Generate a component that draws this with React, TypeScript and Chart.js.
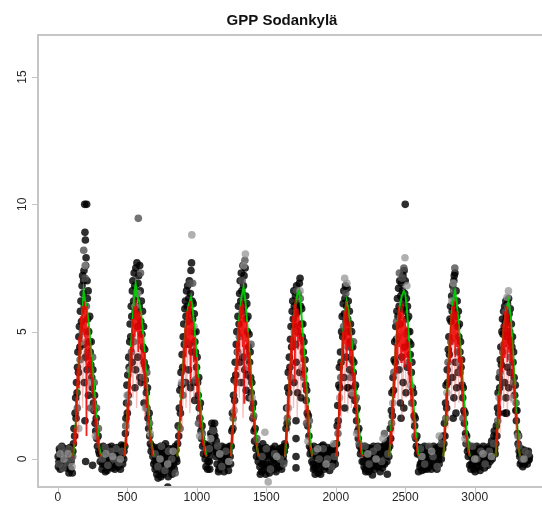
import React, { useEffect, useRef } from "react";
import { Chart, registerables } from "chart.js";

Chart.register(...registerables);

type Pt = [number, number];

const titleText = "GPP Sodankylä";
const xTickValues = [0, 500, 1000, 1500, 2000, 2500, 3000];
const yTickValues = [0, 5, 10, 15];
const xRange: Pt = [-143, 3457];
const yRange: Pt = [-1.1, 16.65];

// Observed daily GPP, dark markers
const obsDark: Pt[] = [
  // winter 0
  [2, 0.1], [8, -0.1], [14, 0.3], [20, 0.0], [26, -0.2], [32, 0.2], [40, 0.1], [46, -0.3], [52, 0.0], [60, 0.15], [68, -0.1], [76, 0.35], [84, 0.05], [92, -0.4], [98, 0.2], [104, -0.55], [108, 0.3], [80, -0.55],
  [4, -0.3], [11, 0.4], [17, -0.4], [23, 0.2], [29, 0.5], [35, -0.1], [43, 0.35], [49, -0.25], [55, 0.4], [63, -0.35], [71, 0.1], [79, -0.2], [87, 0.45], [95, -0.1],
  // season 1
  [112, 0.6], [116, 1.2], [120, 0.9], [124, 1.8], [128, 2.4], [131, 1.6], [134, 3.0], [138, 2.6], [141, 3.6], [144, 4.2], [148, 3.4], [151, 4.8], [155, 5.2], [158, 4.4], [162, 5.8], [166, 6.2], [170, 5.4], [174, 6.8], [178, 7.2],
  [182, 6.5], [185, 7.0], [188, 7.4], [190, 6.0], [193, 10.0], [195, 8.9], [198, 8.6], [200, 7.6], [203, 7.9], [207, 10.0], [210, 7.0], [212, 6.3], [215, 5.5], [218, 6.6], [222, 5.0], [226, 4.6], [229, 5.6],
  [233, 4.2], [237, 3.7], [240, 4.6], [244, 3.2], [248, 2.8], [252, 3.5], [256, 2.2], [260, 1.9], [264, 2.5], [268, 1.4], [272, 1.1], [276, 1.6], [280, 0.8], [285, 0.5], [290, 0.9], [295, 0.3], [300, 0.2], [305, -0.1],
  [190, 3.0], [200, 4.0], [210, 3.5], [220, 2.5], [195, 1.5], [185, 4.5], [200, -0.1], [250, -0.25],
  // winter 1
  [315, 0.2], [322, -0.2], [328, 0.4], [335, 0.1], [342, -0.5], [350, 0.3], [358, 0.0], [366, -0.1], [374, 0.35], [382, 0.15], [390, -0.35], [398, 0.2], [406, 0.05], [414, 0.3], [422, -0.2], [430, 0.1], [438, 0.4], [446, -0.05], [454, 0.25], [462, 0.1], [470, 0.5], [476, 0.3],
  [318, -0.4], [326, 0.5], [338, -0.2], [346, 0.3], [354, -0.45], [362, 0.45], [370, -0.3], [378, 0.0], [386, 0.5], [394, -0.2], [402, 0.4], [410, -0.4], [418, 0.15], [426, 0.45], [434, -0.3], [442, 0.2], [450, -0.4], [458, 0.55], [466, -0.2], [474, 0.0],
  // season 2
  [482, 0.5], [486, 1.0], [490, 1.6], [494, 2.2], [497, 2.9], [500, 1.8], [503, 3.3], [506, 2.5], [510, 4.0], [513, 3.6], [517, 4.6], [520, 5.3], [524, 4.8], [528, 6.0], [532, 5.6], [536, 6.6], [540, 7.0],
  [545, 6.2], [549, 7.3], [553, 6.8], [557, 5.8], [561, 7.5], [565, 6.4], [569, 7.7], [573, 5.2], [577, 6.9], [581, 7.2], [585, 6.0], [589, 7.6], [593, 6.6], [597, 5.4], [601, 6.2], [605, 4.9], [609, 5.8],
  [613, 4.4], [617, 5.2], [621, 3.8], [625, 4.3], [629, 3.1], [633, 3.6], [637, 2.6], [641, 2.0], [645, 2.8], [649, 1.6], [653, 1.2], [657, 1.8], [661, 0.9], [666, 0.6], [671, 0.3], [677, 0.5], [684, 0.1], [690, -0.2],
  [560, 3.5], [575, 4.0], [590, 3.2], [555, 2.8], [600, 3.0], [620, 2.2], [535, 3.8],
  // winter 2
  [695, 0.3], [700, -0.4], [706, 0.1], [712, -0.6], [718, 0.4], [724, 0.0], [730, -0.3], [736, 0.2], [742, -0.7], [748, 0.3], [754, -0.1], [760, 0.5], [766, -0.5], [772, 0.1], [778, -0.2], [785, 0.3], [791, -1.1], [797, 0.0], [804, -0.45], [810, 0.25], [818, -0.3], [826, 0.4], [834, -0.2], [842, 0.1], [850, 0.35], [856, -0.1],
  [698, -0.1], [703, 0.45], [709, -0.3], [715, 0.0], [721, -0.75], [727, 0.3], [733, -0.5], [739, 0.5], [745, -0.2], [751, 0.1], [757, -0.6], [763, 0.3], [769, -0.15], [775, 0.6], [781, -0.4], [788, 0.2], [794, -0.7], [800, 0.4], [807, -0.2], [814, 0.1], [822, -0.6], [830, 0.2], [838, -0.4], [846, 0.5], [853, 0.0],
  // season 3
  [862, 0.6], [866, 1.3], [870, 0.9], [874, 2.0], [878, 2.7], [882, 1.8], [886, 3.4], [890, 2.9], [894, 4.1], [898, 3.6], [902, 4.8], [906, 5.3], [910, 4.5], [914, 5.9], [918, 6.2], [922, 5.6], [926, 6.6],
  [930, 6.0], [934, 6.8], [938, 5.4], [942, 6.3], [946, 7.0], [950, 5.8], [954, 6.5], [958, 7.4], [962, 7.7], [966, 6.2], [970, 5.5], [974, 6.1], [978, 5.0], [982, 5.7], [986, 4.6],
  [990, 4.2], [994, 5.0], [998, 3.6], [1002, 4.0], [1006, 3.0], [1010, 2.5], [1014, 3.2], [1018, 2.0], [1022, 1.6], [1026, 2.2], [1030, 1.1], [1034, 0.8], [1038, 1.3], [1042, 0.5], [1048, 0.2], [1054, 0.6], [1060, 0.0], [1066, -0.3],
  [940, 3.5], [955, 2.8], [965, 4.2], [975, 3.0], [985, 2.3], [920, 3.0], [945, 4.5],
  // winter 3
  [1072, 0.2], [1078, -0.4], [1084, 0.3], [1090, -0.1], [1096, 0.6], [1100, 1.0], [1104, 0.4], [1108, 1.4], [1112, 0.8], [1116, 1.2], [1120, 0.3], [1124, 0.9], [1128, 1.4], [1132, 0.5], [1136, 0.1], [1140, 0.7], [1146, -0.2], [1152, 0.2], [1160, -0.4], [1168, 0.1], [1176, -0.1], [1184, 0.3], [1192, -0.3], [1200, 0.2], [1208, 0.0], [1216, 0.4], [1224, -0.2], [1232, 0.3], [1240, 0.1],
  [1075, 0.5], [1081, -0.1], [1087, 0.1], [1093, -0.4], [1106, 0.9], [1114, 0.4], [1122, 1.1], [1130, 0.9], [1144, 0.3], [1156, -0.5], [1164, 0.35], [1172, -0.3], [1180, 0.5], [1188, 0.0], [1196, -0.5], [1204, 0.45], [1212, -0.2], [1220, 0.1], [1228, -0.45], [1236, 0.5], [1243, -0.2],
  // season 4
  [1248, 0.5], [1252, 1.1], [1256, 1.8], [1260, 1.2], [1264, 2.5], [1268, 3.1], [1272, 2.3], [1276, 3.8], [1280, 3.3], [1284, 4.5], [1288, 5.0], [1292, 4.2], [1296, 5.6], [1300, 6.0], [1304, 5.3], [1308, 6.5],
  [1312, 7.0], [1316, 6.2], [1320, 7.3], [1324, 6.6], [1328, 5.8], [1332, 7.6], [1336, 6.8], [1340, 7.2], [1344, 6.0], [1348, 7.5], [1352, 6.4], [1356, 5.5], [1360, 6.1], [1364, 5.0],
  [1368, 5.6], [1372, 4.4], [1376, 4.9], [1380, 3.8], [1384, 4.2], [1388, 3.2], [1392, 2.6], [1396, 3.0], [1400, 2.0], [1404, 1.6], [1408, 2.2], [1412, 1.1], [1416, 0.7], [1420, 1.2], [1425, 0.4], [1430, 0.1], [1436, 0.5], [1442, -0.1],
  [1320, 3.0], [1330, 4.0], [1345, 3.5], [1355, 2.7], [1365, 3.3], [1310, 3.8], [1375, 2.4],
  // winter 4
  [1448, 0.3], [1454, -0.3], [1460, 0.2], [1466, -0.5], [1472, 0.4], [1478, 0.0], [1484, -0.2], [1490, 0.3], [1496, -0.6], [1502, 0.1], [1510, 0.35], [1518, -0.3], [1526, 0.2], [1534, -0.1], [1542, 0.4], [1550, 0.0], [1558, -0.4], [1566, 0.25], [1574, -0.1], [1582, 0.3], [1590, 0.05], [1598, -0.3], [1606, 0.2], [1614, 0.45], [1622, 0.1], [1630, 0.3],
  [1451, 0.1], [1457, -0.6], [1463, 0.4], [1469, -0.2], [1475, 0.6], [1481, -0.45], [1487, 0.1], [1493, -0.3], [1499, 0.45], [1506, -0.2], [1514, 0.15], [1522, -0.55], [1530, 0.35], [1538, -0.35], [1546, 0.1], [1554, -0.2], [1562, 0.5], [1570, -0.5], [1578, 0.0], [1586, -0.3], [1594, 0.4], [1602, -0.1], [1610, -0.4], [1618, 0.3], [1626, -0.1], [1633, 0.6],
  // season 5
  [1638, 0.5], [1642, 1.2], [1646, 2.0], [1650, 1.4], [1654, 2.8], [1658, 3.4], [1662, 2.6], [1666, 4.0], [1670, 3.6], [1674, 4.7], [1678, 5.2], [1682, 4.4], [1686, 5.8], [1690, 6.2],
  [1694, 5.5], [1698, 6.6], [1702, 6.0], [1706, 5.2], [1710, 6.4], [1714, 5.7], [1718, 6.8], [1722, 6.1], [1726, 5.0], [1730, 6.5], [1734, 5.8], [1738, 6.9], [1743, 7.1], [1747, 6.0], [1751, 5.3], [1755, 5.9], [1759, 4.8],
  [1763, 5.3], [1767, 4.2], [1771, 4.6], [1775, 3.5], [1779, 3.9], [1783, 2.9], [1787, 2.3], [1791, 2.7], [1795, 1.8], [1799, 1.3], [1803, 1.7], [1807, 0.9], [1811, 0.5], [1816, 0.2], [1822, 0.4], [1828, -0.1],
  [1700, 3.0], [1715, 3.8], [1725, 2.6], [1740, 3.4], [1750, 2.4], [1712, 4.5],
  [1714, 1.5], [1714, 0.8], [1714, 0.1], [1714, -0.35],
  // winter 5
  [1834, 0.2], [1840, -0.4], [1846, 0.3], [1852, -0.6], [1858, 0.1], [1864, 0.4], [1870, -0.2], [1876, 0.2], [1882, -0.5], [1888, 0.3], [1894, 0.0], [1900, 0.5], [1906, -0.3], [1912, 0.2], [1920, -0.1], [1928, 0.35], [1936, 0.1], [1944, -0.25], [1952, 0.3], [1960, 0.05], [1968, 0.4], [1976, -0.1], [1984, 0.3], [1992, 0.5], [1998, 0.2],
  [1837, -0.2], [1843, 0.5], [1849, -0.35], [1855, 0.3], [1861, -0.3], [1867, 0.1], [1873, -0.55], [1879, 0.45], [1885, -0.1], [1891, -0.6], [1897, 0.25], [1903, -0.2], [1909, 0.55], [1916, -0.4], [1924, 0.2], [1932, -0.3], [1940, 0.45], [1948, -0.1], [1956, -0.45], [1964, 0.3], [1972, -0.3], [1980, 0.5], [1988, 0.0], [1996, -0.2], [2002, 0.6],
  // season 6
  [2006, 0.6], [2010, 1.3], [2014, 2.1], [2018, 1.5], [2022, 2.9], [2026, 3.6], [2030, 2.8], [2034, 4.2], [2038, 3.8], [2042, 5.0], [2046, 5.6], [2050, 4.8], [2054, 6.1],
  [2058, 6.6], [2062, 5.7], [2066, 6.3], [2070, 6.8], [2074, 5.4], [2078, 6.0], [2082, 6.7], [2086, 5.5], [2090, 6.2], [2094, 5.0], [2098, 5.8], [2102, 4.6], [2106, 5.3], [2110, 4.4],
  [2114, 5.0], [2118, 3.9], [2122, 4.4], [2126, 3.4], [2130, 3.8], [2134, 2.8], [2138, 2.3], [2142, 2.9], [2146, 1.9], [2150, 1.5], [2154, 2.0], [2158, 1.1], [2162, 0.8], [2166, 1.2], [2172, 0.5], [2178, 0.2], [2184, 0.4], [2190, -0.1],
  [2060, 3.2], [2075, 4.0], [2085, 2.8], [2100, 3.5], [2115, 2.5], [2065, 2.0], [2090, 2.8],
  // winter 6
  [2198, 0.3], [2204, -0.3], [2210, 0.2], [2216, -0.5], [2222, 0.4], [2228, 0.0], [2234, -0.2], [2240, 0.3], [2246, -0.4], [2252, 0.1], [2260, 0.4], [2264, -0.63], [2268, -0.2], [2276, 0.2], [2284, -0.1], [2292, 0.3], [2300, 0.0], [2308, -0.3], [2316, 0.2], [2324, 0.45], [2332, 0.1], [2340, -0.2], [2348, 0.3], [2356, 0.6], [2364, 0.2], [2371, -0.6], [2378, 0.4],
  [2201, -0.1], [2207, 0.5], [2213, -0.4], [2219, 0.1], [2225, -0.3], [2231, 0.45], [2237, -0.5], [2243, 0.0], [2249, 0.4], [2256, -0.3], [2272, 0.5], [2280, -0.4], [2288, 0.1], [2296, -0.3], [2304, 0.5], [2312, -0.1], [2320, -0.5], [2328, 0.3], [2336, -0.35], [2344, 0.5], [2352, -0.2], [2360, 0.4], [2368, -0.1], [2375, 0.7], [2382, 0.1],
  // season 7
  [2388, 0.5], [2392, 1.2], [2396, 0.8], [2400, 1.9], [2404, 2.6], [2408, 1.7], [2412, 3.2], [2416, 2.7], [2420, 3.9], [2424, 4.6], [2428, 3.8], [2432, 5.2], [2436, 4.7], [2440, 5.8], [2444, 6.3],
  [2448, 5.6], [2452, 6.7], [2456, 6.0], [2460, 7.0], [2464, 5.3], [2468, 6.4], [2472, 6.9], [2476, 5.9], [2480, 6.6], [2484, 7.2], [2488, 6.2], [2492, 7.4], [2496, 6.5], [2500, 7.0], [2504, 5.8], [2508, 6.3], [2512, 5.5], [2516, 6.0], [2520, 5.0], [2524, 5.6], [2528, 4.6],
  [2532, 5.0], [2536, 4.1], [2540, 4.5], [2544, 3.4], [2548, 3.8], [2552, 2.8], [2556, 2.2], [2560, 2.6], [2564, 1.7], [2568, 1.3], [2572, 1.6], [2576, 0.8], [2580, 0.5], [2584, 0.9], [2588, 0.2], [2592, 0.4], [2596, -0.5],
  [2455, 3.5], [2465, 2.2], [2475, 4.0], [2485, 3.0], [2495, 4.4], [2505, 2.6], [2515, 3.6], [2470, 1.6], [2490, 2.0], [2500, 10.0],
  // winter 7
  [2600, 0.2], [2606, -0.3], [2612, 0.3], [2618, -0.1], [2624, 0.4], [2630, 0.0], [2636, -0.4], [2642, 0.2], [2648, -0.2], [2654, 0.35], [2660, 0.1], [2668, -0.3], [2676, 0.2], [2684, 0.0], [2692, 0.3], [2700, -0.2], [2708, 0.1], [2716, 0.4], [2724, -0.1], [2732, 0.2], [2740, 0.0], [2748, 0.5], [2756, 0.3], [2764, 0.8], [2770, 0.4],
  [2603, 0.45], [2609, -0.2], [2615, 0.1], [2621, -0.45], [2627, 0.3], [2633, -0.1], [2639, 0.5], [2645, -0.35], [2651, 0.0], [2657, -0.4], [2664, 0.45], [2672, -0.15], [2680, 0.35], [2688, -0.4], [2696, 0.1], [2704, 0.5], [2712, -0.3], [2720, 0.2], [2728, -0.4], [2736, 0.45], [2744, -0.2], [2752, 0.2], [2760, 0.0], [2767, 0.5], [2773, 0.9],
  // season 8
  [2778, 0.6], [2782, 1.4], [2786, 0.9], [2790, 2.2], [2794, 2.9], [2798, 2.0], [2802, 3.5], [2806, 3.0], [2810, 4.3], [2814, 4.8], [2818, 4.1], [2822, 5.5], [2826, 6.0],
  [2830, 5.4], [2834, 6.4], [2838, 5.8], [2842, 6.8], [2846, 6.1], [2850, 7.0], [2853, 7.2], [2858, 7.3], [2862, 5.9], [2866, 6.6], [2870, 5.6], [2874, 6.2], [2878, 5.2], [2882, 5.8], [2886, 4.8],
  [2890, 5.3], [2894, 4.2], [2898, 4.6], [2902, 3.6], [2906, 3.9], [2910, 2.9], [2914, 2.4], [2918, 2.8], [2922, 1.9], [2926, 1.4], [2930, 1.8], [2934, 1.0], [2938, 0.6], [2942, 0.9], [2948, 0.3], [2954, 0.1], [2960, 0.4], [2964, -0.25],
  [2840, 3.2], [2850, 2.4], [2860, 3.8], [2870, 2.8], [2880, 3.4], [2845, 1.6], [2865, 1.8],
  // winter 8
  [2970, 0.2], [2976, -0.2], [2982, 0.3], [2988, 0.0], [2994, -0.4], [3000, 0.2], [3006, 0.4], [3012, -0.1], [3018, 0.3], [3024, 0.05], [3030, -0.3], [3036, 0.2], [3042, 0.4], [3050, 0.0], [3058, 0.3], [3066, -0.2], [3074, 0.15], [3082, 0.35], [3090, 0.0], [3098, 0.3], [3106, 0.5], [3114, 0.2], [3122, 0.7], [3130, 0.3], [3138, 0.9], [3144, 0.4],
  [2967, 0.5], [2973, -0.4], [2979, 0.1], [2985, -0.2], [2991, 0.45], [2997, -0.1], [3003, -0.5], [3009, 0.1], [3015, 0.5], [3021, -0.3], [3027, 0.35], [3033, -0.1], [3039, -0.45], [3046, 0.25], [3054, -0.2], [3062, 0.5], [3070, -0.35], [3078, 0.0], [3086, 0.4], [3094, -0.25], [3102, 0.15], [3110, -0.1], [3118, 0.45], [3126, 0.0], [3134, 0.5], [3141, 1.1], [3147, 0.2],
  // season 9
  [3152, 0.6], [3156, 1.3], [3160, 0.9], [3164, 2.0], [3168, 2.6], [3172, 1.8], [3176, 3.2], [3180, 2.8], [3184, 3.9], [3188, 4.4], [3192, 3.7], [3196, 5.0], [3200, 5.5],
  [3204, 4.9], [3208, 5.8], [3212, 5.2], [3216, 6.0], [3220, 5.4], [3224, 6.2], [3228, 5.6], [3232, 4.8], [3236, 6.1], [3240, 5.5], [3244, 6.3], [3248, 5.7], [3252, 5.0], [3256, 5.9], [3260, 4.6], [3264, 5.3], [3268, 4.4],
  [3272, 4.8], [3276, 3.8], [3280, 4.2], [3284, 3.2], [3288, 2.5], [3292, 2.9], [3296, 1.9], [3300, 1.5], [3304, 1.9], [3308, 1.0], [3312, 0.6], [3316, 0.9], [3320, 0.3], [3324, 0.1],
  [3215, 3.0], [3225, 2.4], [3235, 3.6], [3245, 2.8], [3255, 3.4], [3229, 1.8], [3220, 1.8],
  // winter 9
  [3330, 0.2], [3336, -0.1], [3342, 0.3], [3350, 0.1], [3358, -0.2], [3366, 0.2], [3374, 0.0], [3382, 0.15], [3388, -0.05], [3394, 0.1],
  [3328, -0.2], [3333, 0.4], [3339, 0.0], [3346, -0.3], [3353, 0.35], [3362, -0.1], [3370, 0.3], [3378, -0.2], [3386, 0.3], [3392, 0.0],
];

// Observed daily GPP, mid-grey markers
const obsGray: Pt[] = [
  [10, -0.2], [24, 0.45], [36, -0.35], [50, 0.25], [66, -0.15], [80, 0.4], [96, 0.0], [106, 0.1],
  [140, 2.0], [160, 3.9], [176, 5.0], [186, 8.2], [197, 7.1], [205, 6.0], [214, 4.2], [235, 2.0], [250, 4.0], [262, 3.0], [278, 2.0], [292, 1.2],
  [320, 0.0], [340, 0.45], [360, -0.25], [380, 0.3], [400, 0.0], [420, 0.4], [440, -0.15], [460, 0.3],
  [488, 1.3], [508, 2.2], [530, 4.2], [546, 4.6], [568, 5.6], [579, 9.45], [595, 7.3], [612, 3.2], [640, 3.4], [660, 1.4],
  [700, 0.2], [720, -0.3], [745, 0.5], [770, -0.45], [795, 0.3], [820, 0.0], [845, -0.55],
  [880, 1.2], [900, 2.5], [925, 4.6], [950, 6.9], [970, 6.9], [990, 3.1], [1012, 1.4], [1040, 1.0],
  [1090, 0.4], [1118, 1.1], [1150, 0.5], [1180, -0.3], [1210, 0.3],
  [1262, 1.6], [1285, 3.0], [1306, 4.8], [1326, 7.0], [1346, 7.8], [1362, 4.0], [1390, 4.5], [1410, 1.7], [1432, 0.8],
  [1470, 0.1], [1500, 0.4], [1530, -0.4], [1560, 0.2], [1600, 0.0], [1625, -0.2],
  [1652, 1.6], [1676, 3.2], [1696, 4.5], [1720, 6.6], [1745, 6.3], [1770, 3.2], [1790, 1.4], [1810, 1.5],
  [1850, 0.3], [1880, 0.0], [1910, 0.4], [1940, 0.0], [1970, -0.3], [1990, 0.1],
  [2016, 1.0], [2036, 3.2], [2056, 5.2], [2072, 6.5], [2088, 4.4], [2108, 3.2], [2128, 4.6], [2148, 2.4], [2168, 0.6],
  [2210, 0.5], [2240, -0.2], [2270, 0.3], [2300, 0.45], [2330, -0.1], [2350, 1.0], [2375, 0.2],
  [2402, 1.4], [2418, 3.4], [2438, 5.4], [2458, 7.3], [2478, 7.1], [2490, 7.5], [2506, 4.9], [2526, 3.8], [2546, 2.2], [2570, 0.9],
  [2610, 0.4], [2640, -0.2], [2670, 0.5], [2700, 0.1], [2730, -0.3], [2760, 0.6],
  [2792, 1.6], [2808, 3.8], [2828, 4.6], [2848, 6.6], [2857, 7.5], [2876, 4.2], [2896, 3.4], [2916, 1.6], [2945, 0.6],
  [2985, 0.5], [3015, 0.0], [3045, 0.3], [3075, -0.2], [3105, 0.3], [3135, 0.6],
  [3166, 1.5], [3182, 3.4], [3202, 4.2], [3222, 5.8], [3238, 6.0], [3258, 4.0], [3278, 3.0], [3298, 2.2], [3318, 0.5],
  [3340, 0.0], [3362, 0.3], [3386, 0.2],
];

// Observed daily GPP, light-grey markers
const obsLight: Pt[] = [
  [16, 0.2], [44, 0.0], [74, 0.2], [102, -0.3], [150, 1.2], [170, 4.6], [195, 7.6], [225, 3.0], [270, 0.9], [345, 0.2], [395, 0.1], [450, 0.0],
  [498, 2.5], [520, 3.5], [556, 6.0], [575, 6.5], [630, 2.0], [665, 1.0], [735, 0.0], [790, -0.2], [830, 0.3],
  [890, 3.0], [935, 5.0], [964, 8.8], [980, 5.2], [1020, 0.9], [1100, 0.8], [1165, 0.2], [1230, -0.1],
  [1270, 1.9], [1298, 4.2], [1338, 7.6], [1350, 8.05], [1372, 3.6], [1398, 2.4], [1490, 1.05], [1514, -0.9], [1575, 0.1],
  [1660, 2.0], [1700, 5.0], [1743, 6.6], [1760, 3.6], [1800, 0.7], [1870, 0.4], [1930, -0.2], [1985, 0.6],
  [2028, 2.4], [2064, 7.1], [2080, 6.9], [2120, 2.6], [2150, 1.0], [2230, 0.2], [2290, 0.0], [2340, 0.8],
  [2410, 2.2], [2450, 4.8], [2498, 7.9], [2512, 6.8], [2540, 2.9], [2620, 0.1], [2690, 0.3], [2745, 0.9],
  [2800, 2.6], [2835, 6.2], [2846, 6.9], [2890, 3.8], [2930, 0.8], [3000, 0.0], [3060, 0.2], [3120, 0.1],
  [3176, 2.4], [3210, 4.5], [3233, 6.35], [3243, 6.6], [3270, 2.4], [3310, 0.9], [3355, 0.0],
];

// Smooth model estimate (green); NaN breaks the line between seasons
const modelGreen: Pt[] = [
  [110, 0.1], [125, 1.0], [140, 2.6], [160, 4.5], [176, 5.8], [186, 6.6], [196, 6.2], [206, 6.0], [216, 5.6], [228, 5.0], [240, 4.2], [255, 3.2], [270, 2.2], [285, 1.2], [300, 0.4], [315, 0.1], [316, NaN],
  [480, 0.1], [495, 1.2], [510, 2.8], [525, 4.3], [540, 5.6], [552, 6.6], [560, 6.9], [572, 6.4], [585, 6.2], [600, 5.7], [615, 4.8], [630, 3.8], [645, 2.6], [660, 1.5], [675, 0.6], [690, 0.1], [691, NaN],
  [860, 0.1], [875, 1.2], [890, 2.6], [905, 4.0], [920, 5.2], [935, 5.9], [958, 6.35], [968, 6.0], [980, 5.3], [995, 4.4], [1010, 3.3], [1025, 2.2], [1040, 1.2], [1055, 0.5], [1070, 0.1], [1071, NaN],
  [1245, 0.1], [1260, 1.3], [1275, 2.8], [1290, 4.2], [1305, 5.5], [1320, 6.3], [1336, 6.75], [1350, 6.2], [1362, 5.4], [1375, 4.5], [1390, 3.4], [1405, 2.3], [1420, 1.3], [1435, 0.4], [1445, 0.1], [1446, NaN],
  [1635, 0.1], [1650, 1.3], [1665, 2.8], [1680, 4.3], [1695, 5.4], [1710, 6.1], [1725, 6.5], [1735, 6.6], [1748, 6.1], [1760, 5.1], [1775, 4.0], [1790, 2.8], [1805, 1.6], [1818, 0.6], [1830, 0.1], [1831, NaN],
  [2005, 0.1], [2020, 1.4], [2035, 3.0], [2050, 4.6], [2065, 5.7], [2078, 6.2], [2090, 5.9], [2105, 5.2], [2120, 4.3], [2135, 3.3], [2150, 2.3], [2165, 1.3], [2180, 0.5], [2195, 0.1], [2196, NaN],
  [2385, 0.1], [2400, 1.2], [2415, 2.7], [2430, 4.2], [2445, 5.4], [2460, 6.0], [2475, 6.4], [2490, 6.6], [2500, 6.5], [2512, 5.9], [2525, 4.9], [2540, 3.7], [2555, 2.5], [2570, 1.4], [2585, 0.5], [2595, 0.1], [2596, NaN],
  [2775, 0.1], [2790, 1.4], [2805, 3.0], [2820, 4.6], [2835, 5.8], [2850, 6.4], [2858, 6.6], [2870, 6.2], [2885, 5.3], [2900, 4.2], [2915, 3.0], [2930, 1.9], [2945, 0.9], [2965, 0.1], [2966, NaN],
  [3150, 0.1], [3165, 1.3], [3180, 2.8], [3195, 4.2], [3210, 5.2], [3225, 5.8], [3243, 6.2], [3255, 5.8], [3268, 4.9], [3280, 3.8], [3292, 2.6], [3304, 1.5], [3316, 0.6], [3325, 0.1],
];

// Daily model estimate (red); NaN breaks the line between seasons
const modelRed: Pt[] = [
  [110, 0.05], [118, 1.2], [124, 0.6], [130, 2.4], [134, 1.5], [140, 3.6], [146, 2.8], [152, 4.8], [158, 3.9], [164, 5.6], [170, 4.6], [176, 6.0], [182, 5.0], [188, 6.2], [192, 4.8], [196, 5.9], [200, 3.8], [204, 6.0], [206, 0.9], [208, 5.0], [212, 4.4], [216, 5.2], [222, 3.6], [228, 4.6], [234, 3.2], [240, 4.0], [246, 2.6], [252, 3.2], [258, 2.0], [264, 2.4], [270, 1.3], [276, 1.6], [284, 0.7], [292, 0.8], [300, 0.2], [312, 0.1], [313, NaN],
  [480, 0.1], [488, 1.0], [494, 0.5], [500, 2.2], [506, 1.4], [512, 3.2], [518, 2.5], [524, 4.4], [530, 3.4], [536, 5.5], [542, 4.2], [548, 6.0], [554, 4.8], [560, 6.3], [566, 5.0], [572, 6.0], [578, 4.2], [584, 5.8], [590, 4.5], [596, 5.6], [602, 3.6], [608, 4.9], [614, 3.4], [620, 4.2], [626, 2.8], [632, 3.4], [638, 2.0], [644, 2.5], [650, 1.4], [656, 1.7], [664, 0.7], [672, 0.8], [680, 0.2], [690, 0.1], [691, NaN],
  [860, 0.1], [868, 1.1], [874, 0.5], [880, 2.3], [886, 1.5], [892, 3.4], [898, 2.4], [904, 4.4], [910, 3.4], [916, 5.2], [922, 4.0], [928, 5.8], [934, 4.6], [940, 6.0], [946, 4.2], [952, 6.2], [956, 3.0], [960, 5.6], [966, 4.6], [972, 5.4], [978, 3.8], [984, 4.8], [990, 3.2], [996, 4.0], [1002, 2.6], [1008, 3.2], [1014, 1.9], [1020, 2.3], [1026, 1.2], [1032, 1.5], [1040, 0.6], [1048, 0.7], [1058, 0.2], [1070, 0.1], [1071, NaN],
  [1245, 0.1], [1252, 1.2], [1258, 0.6], [1264, 2.4], [1270, 1.6], [1276, 3.6], [1282, 2.6], [1288, 4.6], [1294, 3.5], [1300, 5.4], [1306, 4.2], [1312, 6.0], [1318, 4.8], [1324, 6.2], [1330, 4.4], [1336, 6.1], [1340, 2.2], [1344, 5.6], [1350, 4.6], [1356, 5.4], [1362, 4.0], [1368, 5.0], [1374, 3.4], [1380, 4.2], [1386, 2.8], [1392, 3.3], [1398, 1.9], [1404, 2.3], [1410, 1.2], [1416, 1.4], [1424, 0.6], [1432, 0.6], [1440, 0.2], [1445, 0.1], [1446, NaN],
  [1635, 0.1], [1642, 1.2], [1648, 0.6], [1654, 2.5], [1660, 1.6], [1666, 3.7], [1672, 2.7], [1678, 4.8], [1684, 3.6], [1690, 5.6], [1696, 4.4], [1702, 6.1], [1706, 3.0], [1710, 6.3], [1716, 4.8], [1722, 5.9], [1728, 4.3], [1734, 5.7], [1740, 4.6], [1746, 5.4], [1752, 3.8], [1758, 4.8], [1764, 3.2], [1770, 4.0], [1776, 2.6], [1782, 3.0], [1788, 1.8], [1794, 2.1], [1800, 1.1], [1806, 1.2], [1812, 0.5], [1820, 0.4], [1830, 0.1], [1831, NaN],
  [2005, 0.1], [2012, 1.3], [2018, 0.7], [2024, 2.6], [2030, 1.7], [2036, 3.8], [2042, 2.8], [2048, 5.0], [2054, 3.8], [2060, 5.8], [2066, 4.5], [2072, 6.2], [2078, 3.6], [2084, 6.0], [2090, 4.4], [2096, 5.4], [2102, 3.9], [2108, 4.9], [2114, 3.4], [2120, 4.3], [2126, 2.8], [2132, 3.4], [2138, 2.0], [2144, 2.5], [2150, 1.4], [2156, 1.6], [2164, 0.7], [2172, 0.7], [2182, 0.2], [2195, 0.1], [2196, NaN],
  [2385, 0.1], [2392, 1.1], [2398, 0.6], [2404, 2.3], [2410, 1.5], [2416, 3.4], [2422, 2.4], [2428, 4.5], [2434, 3.4], [2440, 5.4], [2446, 4.0], [2452, 6.0], [2458, 4.4], [2464, 5.8], [2470, 3.8], [2476, 6.1], [2482, 4.2], [2488, 5.7], [2494, 3.6], [2500, 5.5], [2506, 4.0], [2512, 5.2], [2518, 3.5], [2524, 4.6], [2530, 3.0], [2536, 3.8], [2542, 2.3], [2548, 2.8], [2554, 1.6], [2560, 1.9], [2568, 0.8], [2576, 0.8], [2586, 0.2], [2595, 0.1], [2596, NaN],
  [2775, 0.1], [2782, 1.3], [2788, 0.7], [2794, 2.6], [2800, 1.7], [2806, 3.8], [2812, 2.8], [2818, 4.9], [2824, 3.8], [2830, 5.7], [2836, 4.5], [2842, 6.0], [2848, 4.6], [2854, 6.2], [2860, 4.0], [2866, 5.8], [2872, 4.4], [2878, 5.3], [2884, 3.8], [2890, 4.8], [2896, 3.2], [2902, 4.0], [2908, 2.5], [2914, 3.0], [2920, 1.7], [2926, 2.0], [2934, 0.9], [2942, 0.9], [2952, 0.3], [2965, 0.1], [2966, NaN],
  [3150, 0.1], [3157, 1.2], [3163, 0.6], [3169, 2.5], [3175, 1.6], [3181, 3.6], [3187, 2.6], [3193, 4.6], [3199, 3.4], [3205, 5.3], [3211, 4.0], [3217, 5.8], [3223, 4.4], [3229, 6.0], [3235, 3.8], [3241, 5.7], [3247, 4.2], [3253, 5.4], [3259, 3.8], [3265, 4.8], [3271, 3.2], [3277, 3.9], [3283, 2.4], [3289, 2.9], [3295, 1.5], [3301, 1.8], [3309, 0.8], [3317, 0.6], [3325, 0.1],
];

// Ensemble member traces (faint red)
const modelRedFaint: Pt[] = [
  [115, 0.3], [140, 3.0], [148, 0.8], [170, 5.2], [178, 2.0], [195, 6.1], [201, 0.9], [215, 4.6], [222, 2.5], [235, 4.4], [248, 1.8], [265, 2.6], [285, 0.4], [286, NaN],
  [485, 0.3], [505, 2.6], [512, 1.0], [530, 4.8], [540, 2.4], [560, 6.2], [566, 2.0], [585, 5.4], [592, 2.8], [610, 4.0], [625, 1.6], [640, 2.6], [665, 0.4], [666, NaN],
  [865, 0.3], [885, 2.8], [892, 1.0], [915, 4.8], [922, 2.0], [945, 5.8], [950, 1.8], [970, 5.0], [978, 2.2], [995, 3.8], [1010, 1.4], [1025, 2.0], [1050, 0.3], [1051, NaN],
  [1250, 0.3], [1270, 2.9], [1278, 1.1], [1298, 5.0], [1306, 2.4], [1326, 6.3], [1332, 1.6], [1352, 5.2], [1360, 2.6], [1376, 3.8], [1392, 1.4], [1408, 2.0], [1430, 0.3], [1431, NaN],
  [1640, 0.3], [1660, 2.9], [1667, 1.0], [1688, 5.0], [1696, 2.0], [1716, 6.2], [1722, 1.6], [1742, 5.2], [1750, 2.4], [1766, 3.6], [1782, 1.3], [1796, 1.8], [1818, 0.3], [1819, NaN],
  [2010, 0.3], [2030, 3.0], [2037, 1.2], [2056, 5.2], [2064, 2.2], [2080, 6.0], [2086, 1.8], [2104, 4.8], [2112, 2.0], [2130, 3.4], [2146, 1.2], [2160, 1.6], [2182, 0.3], [2183, NaN],
  [2390, 0.3], [2410, 2.8], [2418, 1.0], [2440, 5.0], [2448, 2.2], [2470, 6.2], [2476, 1.5], [2498, 5.6], [2506, 2.4], [2528, 3.8], [2546, 1.3], [2560, 1.8], [2585, 0.3], [2586, NaN],
  [2780, 0.3], [2800, 3.0], [2807, 1.2], [2826, 5.2], [2834, 2.4], [2852, 6.3], [2858, 2.0], [2878, 5.0], [2886, 2.2], [2904, 3.6], [2920, 1.2], [2934, 1.6], [2955, 0.3], [2956, NaN],
  [3155, 0.3], [3175, 2.8], [3182, 1.0], [3200, 4.8], [3208, 2.0], [3228, 6.0], [3234, 1.6], [3254, 5.0], [3262, 2.2], [3280, 3.2], [3296, 1.1], [3308, 1.4], [3320, 0.2],
];

const FONT = "'Liberation Sans', Arial, Helvetica, sans-serif";
const AXIS_GREY = "#c6c6c6";
const TEXT_COLOR = "#262626";
const WIDTH = 542;
const HEIGHT = 505;

const toXY = (pts: Pt[]) => pts.map(([x, y]) => ({ x, y }));

// Frame, tick marks, tick labels and title, placed through the chart's scales
const axesPlugin = {
  id: "baseAxes",
  afterDraw(chart: any) {
    const { ctx, chartArea, scales } = chart;
    const { left, top, bottom } = chartArea;
    const edge = WIDTH + 4;
    ctx.save();

    // frame: top, left, bottom (the right side runs past the canvas)
    ctx.strokeStyle = AXIS_GREY;
    ctx.lineWidth = 2;
    ctx.beginPath();
    ctx.moveTo(edge, top);
    ctx.lineTo(left, top);
    ctx.lineTo(left, bottom);
    ctx.lineTo(edge, bottom);
    ctx.stroke();

    // tick marks
    ctx.lineWidth = 1;
    ctx.beginPath();
    for (const v of xTickValues) {
      const px = Math.round(scales.x.getPixelForValue(v)) + 0.5;
      ctx.moveTo(px, bottom);
      ctx.lineTo(px, bottom + 6);
    }
    for (const v of yTickValues) {
      const py = Math.round(scales.y.getPixelForValue(v)) + 0.5;
      ctx.moveTo(left, py);
      ctx.lineTo(left - 6, py);
    }
    ctx.stroke();

    // tick labels
    ctx.fillStyle = TEXT_COLOR;
    ctx.font = `12px ${FONT}`;
    ctx.textAlign = "center";
    ctx.textBaseline = "middle";
    for (const v of xTickValues) {
      ctx.fillText(String(v), scales.x.getPixelForValue(v), bottom + 11);
    }
    for (const v of yTickValues) {
      const py = scales.y.getPixelForValue(v);
      ctx.save();
      ctx.translate(left - 15, py);
      ctx.rotate(-Math.PI / 2);
      ctx.fillText(String(v), 0, 0);
      ctx.restore();
    }

    // title
    ctx.font = `bold 15px ${FONT}`;
    ctx.fillStyle = "#111";
    ctx.fillText(titleText, 282, 21);
    ctx.restore();
  },
};

export default function App() {
  const canvasRef = useRef<HTMLCanvasElement | null>(null);

  useEffect(() => {
    document.documentElement.style.overflow = "hidden";
    document.body.style.margin = "0";
    document.body.style.overflow = "hidden";
    const canvas = canvasRef.current;
    if (!canvas) return;

    const pointDs = (label: string, pts: Pt[], color: string, order: number) => ({
      type: "scatter" as const,
      label,
      data: toXY(pts),
      backgroundColor: color,
      borderWidth: 0,
      pointRadius: 3.8,
      pointHoverRadius: 3.8,
      order,
    });
    const lineDs = (label: string, pts: Pt[], color: string, width: number, order: number) => ({
      type: "line" as const,
      label,
      data: toXY(pts),
      borderColor: color,
      borderWidth: width,
      pointRadius: 0,
      tension: 0,
      fill: false,
      spanGaps: false,
      order,
    });

    const chart = new Chart(canvas, {
      type: "scatter",
      data: {
        datasets: [
          lineDs("Red model", modelRed, "rgba(240,0,0,0.85)", 1.6, 0),
          lineDs("Green model", modelGreen, "rgba(0,205,0,0.95)", 2, 1),
          lineDs("Red members", modelRedFaint, "rgba(230,60,60,0.35)", 1.2, 2),
          pointDs("Observed (light)", obsLight, "rgba(150,150,150,0.75)", 3),
          pointDs("Observed (grey)", obsGray, "rgba(80,80,80,0.8)", 4),
          pointDs("Observed", obsDark, "rgba(0,0,0,0.82)", 5),
        ] as any,
      },
      options: {
        responsive: false,
        animation: false,
        events: [],
        layout: { padding: { left: 38, top: 35, right: 0, bottom: 18 } },
        plugins: {
          legend: { display: false },
          tooltip: { enabled: false },
          title: { display: false },
        },
        scales: {
          x: { type: "linear", display: false, min: xRange[0], max: xRange[1] },
          y: { type: "linear", display: false, min: yRange[0], max: yRange[1] },
        },
      },
      plugins: [axesPlugin],
    });

    return () => chart.destroy();
  }, []);

  return (
    <div style={{ width: WIDTH, height: HEIGHT, overflow: "hidden", position: "relative", background: "#fff" }}>
      <canvas ref={canvasRef} width={WIDTH} height={HEIGHT} style={{ display: "block", width: WIDTH, height: HEIGHT }} />
    </div>
  );
}
